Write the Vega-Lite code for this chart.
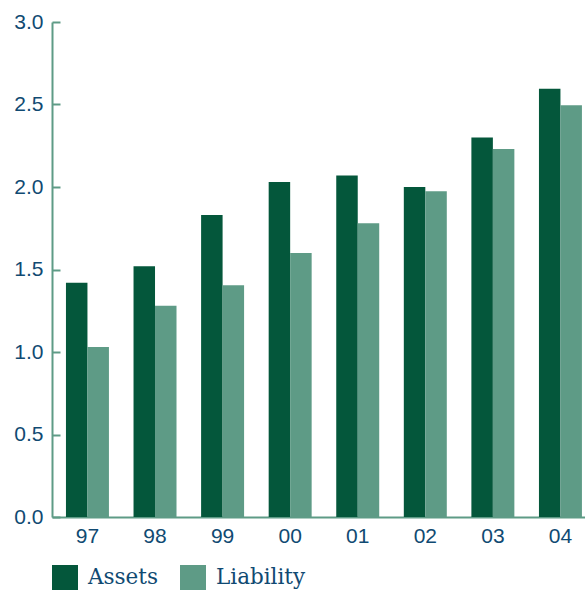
{
  "$schema": "https://vega.github.io/schema/vega-lite/v6.json",
  "width": 533,
  "height": 495,
  "autosize": {"type": "none"},
  "padding": {"left": 52, "top": 22, "right": 0, "bottom": 73},
  "background": "white",
  "config": {
    "view": {"stroke": null},
    "axis": {"labelFont": "Liberation Sans", "labelColor": "#104a72", "grid": false, "domainColor": "#5e9b86", "domainWidth": 2, "title": null}
  },
  "data": {
    "values": [
      {"year": "97", "series": "Assets", "value": 1.42},
      {"year": "97", "series": "Liability", "value": 1.03},
      {"year": "98", "series": "Assets", "value": 1.52},
      {"year": "98", "series": "Liability", "value": 1.28},
      {"year": "99", "series": "Assets", "value": 1.83},
      {"year": "99", "series": "Liability", "value": 1.405},
      {"year": "00", "series": "Assets", "value": 2.03},
      {"year": "00", "series": "Liability", "value": 1.6},
      {"year": "01", "series": "Assets", "value": 2.07},
      {"year": "01", "series": "Liability", "value": 1.78},
      {"year": "02", "series": "Assets", "value": 2.0},
      {"year": "02", "series": "Liability", "value": 1.975},
      {"year": "03", "series": "Assets", "value": 2.3},
      {"year": "03", "series": "Liability", "value": 2.23},
      {"year": "04", "series": "Assets", "value": 2.595},
      {"year": "04", "series": "Liability", "value": 2.495}
    ]
  },
  "mark": {"type": "bar"},
  "encoding": {
    "x": {
      "field": "year", "type": "nominal", "sort": null,
      "scale": {"paddingInner": 0.364, "paddingOuter": 0.126, "align": 0.82},
      "axis": {"labelAngle": 0, "labelFontSize": 21, "ticks": false, "labelPadding": 8}
    },
    "xOffset": {"field": "series", "type": "nominal", "sort": ["Assets", "Liability"]},
    "y": {
      "field": "value", "type": "quantitative",
      "scale": {"domain": [0, 3], "nice": false},
      "axis": {"values": [0, 0.5, 1, 1.5, 2, 2.5, 3], "format": ".1f", "labelFontSize": 21, "tickSize": -8, "tickColor": "#5e9b86", "tickWidth": 2, "labelPadding": 17}
    },
    "color": {
      "field": "series", "type": "nominal",
      "scale": {"domain": ["Assets", "Liability"], "range": ["#04573b", "#5e9b86"]},
      "legend": {
        "title": null, "orient": "none", "legendX": 0, "legendY": 543, "direction": "horizontal",
        "symbolType": "square", "symbolSize": 676, "symbolStrokeWidth": 0, "symbolOpacity": 1,
        "labelFont": "DejaVu Serif", "labelFontSize": 21.5, "labelColor": "#104a72",
        "columnPadding": 22, "labelOffset": 10
      }
    }
  }
}
